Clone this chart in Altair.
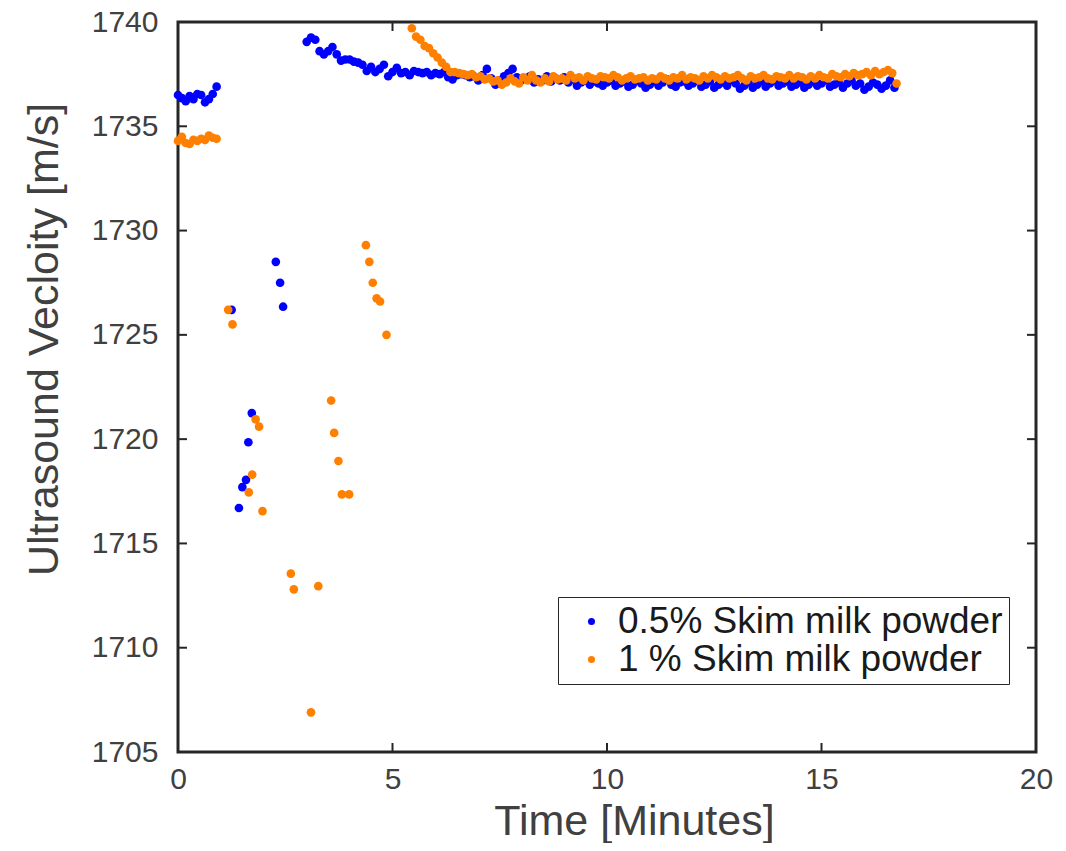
import altair as alt
import pandas as pd

# ---------------- data ----------------
S1 = "0.5% Skim milk powder"
S2 = "1 % Skim milk powder"

# 0.5 % : first plateau (start 0.0 min, step 0.09 min)
blue_start_t0, blue_start_dt = 0.0, 0.09
blue_start_v = [1736.5, 1736.35, 1736.2, 1736.45, 1736.3, 1736.55, 1736.5, 1736.15, 1736.3, 1736.55, 1736.9]

# 0.5 % : scattered points
blue_sc_t = [1.25, 1.42, 1.50, 1.585, 1.64, 1.72, 2.28, 2.38, 2.45]
blue_sc_v = [1726.2, 1716.7, 1717.7, 1718.05, 1719.85, 1721.25, 1728.5, 1727.5, 1726.35]

# 0.5 % : main series (start 3.0 min, step 0.1 min)
blue_main_t0, blue_main_dt = 3.0, 0.1
blue_main_v = [
    1739.05, 1739.25, 1739.15, 1738.6, 1738.45, 1738.6, 1738.8, 1738.45, 1738.15, 1738.2,
    1738.2, 1738.1, 1738.05, 1737.95, 1737.65, 1737.85, 1737.6, 1737.75, 1737.95, 1737.4,
    1737.6, 1737.8, 1737.55, 1737.6, 1737.45, 1737.65, 1737.6, 1737.55, 1737.6, 1737.45,
    1737.55, 1737.5, 1737.6, 1737.35, 1737.25, 1737.45, 1737.5, 1737.45, 1737.35, 1737.4,
    1737.2, 1737.45, 1737.75, 1737.3, 1737.0, 1737.2, 1737.4, 1737.55, 1737.75, 1737.35,
    1737.2, 1737.3, 1737.4, 1737.1, 1737.25, 1737.2, 1737.4, 1737.15, 1737.3, 1737.2,
    1737.35, 1737.1, 1737.25, 1736.95, 1737.1, 1737.2, 1737.0, 1737.15, 1737.05, 1736.95,
    1737.1, 1737.2, 1736.95, 1737.05, 1737.15, 1736.9, 1737.0, 1737.2, 1737.05, 1736.85,
    1737.0, 1737.15, 1736.95, 1737.1, 1737.25, 1737.0, 1736.9, 1737.1, 1737.15, 1736.95,
    1737.05, 1737.2, 1736.9, 1737.0, 1737.15, 1736.85, 1737.0, 1737.1, 1736.95, 1737.2,
    1737.05, 1736.8, 1736.95, 1737.1, 1736.85, 1737.0, 1737.15, 1736.9, 1737.05, 1737.2,
    1736.95, 1737.05, 1737.15, 1736.9, 1737.0, 1737.1, 1736.85, 1737.0, 1737.15, 1736.95,
    1737.05, 1737.2, 1736.9, 1737.0, 1737.1, 1736.85, 1737.05, 1737.2, 1736.95, 1737.05,
    1736.75, 1736.9, 1737.1, 1737.0, 1736.8, 1736.95, 1737.2, 1736.85,
]

# 1 % : first plateau (start 0.0 min, step 0.09 min)
orange_start_t0, orange_start_dt = 0.0, 0.09
orange_start_v = [1734.3, 1734.5, 1734.2, 1734.15, 1734.35, 1734.3, 1734.4, 1734.35, 1734.55, 1734.45, 1734.4]

# 1 % : scattered points
orange_sc_t = [1.17, 1.27, 1.65, 1.73, 1.81, 1.89, 1.97, 2.63, 2.70, 3.10, 3.27,
               3.57, 3.64, 3.74, 3.82, 3.99, 4.38, 4.46, 4.54, 4.63, 4.71, 4.86]
orange_sc_v = [1726.2, 1725.5, 1717.45, 1718.3, 1720.95, 1720.6, 1716.55, 1713.55, 1712.8, 1706.9, 1712.95,
               1721.85, 1720.3, 1718.95, 1717.35, 1717.35, 1729.3, 1728.5, 1727.5, 1726.75, 1726.6, 1725.0]

# 1 % : main series (start 5.45 min, step 0.1 min)
orange_main_t0, orange_main_dt = 5.45, 0.1
orange_main_v = [
    1739.7, 1739.3, 1739.15, 1738.85, 1738.75, 1738.5, 1738.3, 1738.05, 1737.85, 1737.6,
    1737.6, 1737.55, 1737.5, 1737.45, 1737.5, 1737.35, 1737.4, 1737.25, 1737.3, 1737.15,
    1737.2, 1737.0, 1737.1, 1737.3, 1737.15, 1737.05, 1737.35, 1737.2, 1737.45, 1737.2,
    1737.1, 1737.3, 1737.15, 1737.4, 1737.25, 1737.3, 1737.2, 1737.45, 1737.3, 1737.35,
    1737.2, 1737.4, 1737.3, 1737.25, 1737.4, 1737.35, 1737.3, 1737.45, 1737.35, 1737.2,
    1737.3, 1737.4, 1737.25, 1737.3, 1737.35, 1737.2, 1737.3, 1737.25, 1737.4, 1737.3,
    1737.2, 1737.35, 1737.3, 1737.45, 1737.25, 1737.35, 1737.3, 1737.2, 1737.4, 1737.3,
    1737.45, 1737.35, 1737.25, 1737.4, 1737.3, 1737.35, 1737.45, 1737.3, 1737.2, 1737.4,
    1737.3, 1737.35, 1737.45, 1737.3, 1737.25, 1737.4, 1737.35, 1737.3, 1737.45, 1737.3,
    1737.4, 1737.35, 1737.25, 1737.4, 1737.3, 1737.45, 1737.35, 1737.3, 1737.5, 1737.4,
    1737.35, 1737.5, 1737.4, 1737.55, 1737.45, 1737.5, 1737.6, 1737.45, 1737.65, 1737.5,
    1737.6, 1737.7, 1737.55, 1737.05,
]

x_ticks = [0, 5, 10, 15, 20]
y_ticks = [1705, 1710, 1715, 1720, 1725, 1730, 1735, 1740]

# ---------------- build table ----------------
rows = []
def add_regular(series, t0, dt, vals):
    for i, v in enumerate(vals):
        rows.append({"t": round(t0 + i * dt, 3), "v": v, "s": series})

def add_pairs(series, ts, vs):
    for t, v in zip(ts, vs):
        rows.append({"t": t, "v": v, "s": series})

add_regular(S1, blue_start_t0, blue_start_dt, blue_start_v)
add_pairs(S1, blue_sc_t, blue_sc_v)
add_regular(S1, blue_main_t0, blue_main_dt, blue_main_v)
add_regular(S2, orange_start_t0, orange_start_dt, orange_start_v)
add_pairs(S2, orange_sc_t, orange_sc_v)
add_regular(S2, orange_main_t0, orange_main_dt, orange_main_v)
df = pd.DataFrame(rows)

W, H = 858, 730
TL = 9  # inward tick length
AX = "#262626"
FONT = "Liberation Sans"

xs = alt.Scale(domain=[0, 20], nice=False, zero=False)
ys = alt.Scale(domain=[1705, 1740], nice=False, zero=False)

points = alt.Chart(df).mark_circle(size=75, opacity=1).encode(
    x=alt.X("t:Q", scale=xs,
            axis=alt.Axis(title="Time [Minutes]", values=x_ticks, format="d", titleX=456)),
    y=alt.Y("v:Q", scale=ys,
            axis=alt.Axis(title="Ultrasound Vecloity [m/s]", values=y_ticks, format="d", titleY=317)),
    color=alt.Color("s:N",
                    scale=alt.Scale(domain=[S1, S2], range=["#0000ff", "#ff8000"]),
                    legend=alt.Legend(title=None, orient="none", legendX=380, legendY=575,
                                      labelFontSize=37, labelFont=FONT, labelColor="#1a1a1a",
                                      symbolSize=50, symbolType="circle",
                                      strokeColor=AX, fillColor="white", padding=6,
                                      symbolOffset=9, labelOffset=8, rowPadding=0,
                                      labelLimit=600)),
)

xt = pd.DataFrame({"t": x_ticks})
yt = pd.DataFrame({"v": y_ticks})

tick_bottom = alt.Chart(xt).mark_rule(color=AX, strokeWidth=2).encode(
    x=alt.X("t:Q", scale=xs), y=alt.value(H), y2=alt.value(H - TL))
tick_top = alt.Chart(xt).mark_rule(color=AX, strokeWidth=2).encode(
    x=alt.X("t:Q", scale=xs), y=alt.value(0), y2=alt.value(TL))
tick_left = alt.Chart(yt).mark_rule(color=AX, strokeWidth=2).encode(
    y=alt.Y("v:Q", scale=ys), x=alt.value(0), x2=alt.value(TL))
tick_right = alt.Chart(yt).mark_rule(color=AX, strokeWidth=2).encode(
    y=alt.Y("v:Q", scale=ys), x=alt.value(W - TL), x2=alt.value(W))

chart = alt.layer(tick_bottom, tick_top, tick_left, tick_right, points).properties(
    width=W, height=H,
    autosize=alt.AutoSizeParams(type="none"),
    padding={"left": 170, "top": 14, "right": 22, "bottom": 91},
).configure_view(
    stroke=AX, strokeWidth=3
).configure_axis(
    domain=False, ticks=False, grid=False, labelFlush=False,
    labelFont=FONT, labelFontSize=30, labelColor="#404040",
    titleFont=FONT, titleFontSize=43, titleColor="#404040", titleFontWeight="normal",
).configure_axisX(
    labelPadding=12, titlePadding=6,
).configure_axisY(
    labelPadding=20, titlePadding=25,
)

chart.save("out.html", embed_options={"renderer": "svg", "actions": False})
